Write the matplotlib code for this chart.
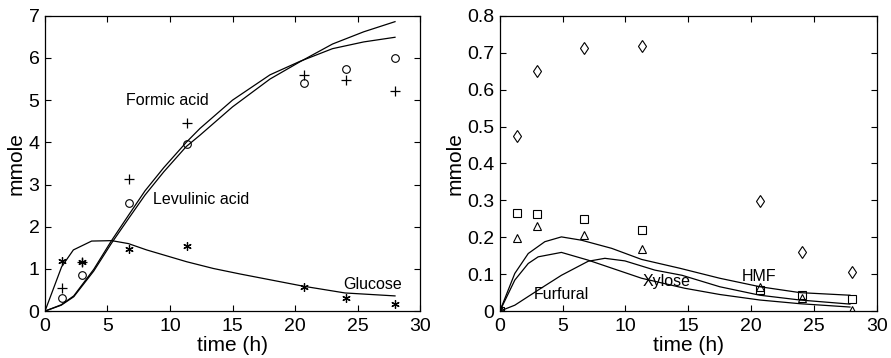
import numpy as np
import matplotlib
matplotlib.use("Agg")
import matplotlib.pyplot as plt

plt.rcParams["font.family"] = ["Liberation Sans", "DejaVu Sans"]

# ---- left panel: measured points ----
t_meas = [1.35, 2.95, 6.7, 11.35, 20.7, 24.05, 28.0]
formic = [0.55, 1.16, 3.12, 4.45, 5.59, 5.47, 5.21]
levulinic = [0.32, 0.85, 2.57, 3.95, 5.41, 5.73, 6.00]
glucose = [1.18, 1.16, 1.48, 1.55, 0.58, 0.30, 0.17]

# ---- left panel: model curves ----
t_acid = [0, 1.3, 2.3, 3.9, 5.3, 6.7, 8.0, 9.5, 11.3, 12.4, 15.0, 18.0, 20.4, 23.0, 25.5, 28.0]
formic_fit = [0, 0.14, 0.34, 0.95, 1.60, 2.20, 2.75, 3.30, 3.90, 4.17, 4.84, 5.50, 5.91, 6.33, 6.62, 6.86]
levulinic_fit = [0, 0.15, 0.36, 0.99, 1.66, 2.28, 2.85, 3.40, 4.00, 4.33, 5.00, 5.60, 5.92, 6.22, 6.38, 6.49]
t_glu = [0, 1.33, 2.27, 3.73, 5.33, 6.67, 8.13, 11.33, 13.47, 15.6, 20.67, 24.0, 28.0]
glucose_fit = [0, 1.05, 1.45, 1.66, 1.67, 1.60, 1.45, 1.17, 1.01, 0.88, 0.59, 0.43, 0.36]

# ---- right panel: measured points ----
t_meas2 = [0, 1.35, 2.95, 6.7, 11.35, 20.7, 24.05, 28.0]
diamonds = [0, 0.474, 0.651, 0.714, 0.719, 0.298, 0.160, 0.105]
squares = [0, 0.265, 0.263, 0.249, 0.219, 0.057, 0.044, 0.032]
triangles = [0, 0.198, 0.231, 0.207, 0.168, 0.064, 0.035, 0.003]

# ---- right panel: model curves ----
t_hmf = [0, 1.19, 2.26, 3.58, 4.9, 6.5, 8.9, 11.28, 14.33, 17.5, 20.7, 23.9, 27.87]
hmf_fit = [0, 0.102, 0.156, 0.188, 0.201, 0.192, 0.170, 0.140, 0.116, 0.089, 0.066, 0.050, 0.043]
t_fast = [0, 1.19, 2.26, 3.05, 4.9, 7.03, 11.28, 14.7, 17.5, 20.7, 23.9, 27.87]
fast_fit = [0, 0.084, 0.129, 0.147, 0.159, 0.138, 0.089, 0.062, 0.045, 0.030, 0.020, 0.011]
t_slow = [0, 1.19, 3.05, 4.9, 7.03, 8.36, 9.95, 12.34, 14.5, 17.5, 20.7, 23.9, 27.87]
slow_fit = [0, 0.016, 0.057, 0.097, 0.135, 0.143, 0.136, 0.111, 0.097, 0.066, 0.043, 0.030, 0.019]

asterisk = (6, 2, 0)
lw = 0.9
ms = 5.5

fig = plt.figure(figsize=(8.91, 3.58), dpi=100)
ax1 = fig.add_axes([0.0505, 0.131, 0.4209, 0.825])
ax2 = fig.add_axes([0.561, 0.131, 0.423, 0.825])

ax1.plot(t_acid, formic_fit, color="black", lw=lw)
ax1.plot(t_acid, levulinic_fit, color="black", lw=lw)
ax1.plot(t_glu, glucose_fit, color="black", lw=lw)
ax1.plot(t_meas, formic, ls="none", marker="+", ms=7, mec="black", mew=0.9)
ax1.plot(t_meas, levulinic, ls="none", marker="o", ms=ms, mfc="none", mec="black", mew=0.8)
ax1.plot(t_meas, glucose, ls="none", marker=asterisk, ms=6, mec="black", mew=0.9)
ax1.text(9.8, 5.0, "Formic acid", fontsize=11.5, ha="center", va="center")
ax1.text(12.5, 2.65, "Levulinic acid", fontsize=11.5, ha="center", va="center")
ax1.text(26.2, 0.62, "Glucose", fontsize=11.5, ha="center", va="center")
ax1.set_xlim(0, 30)
ax1.set_ylim(0, 7)
ax1.set_xticks(range(0, 31, 5))
ax1.set_yticks(range(0, 8))

ax2.plot(t_hmf, hmf_fit, color="black", lw=lw)
ax2.plot(t_fast, fast_fit, color="black", lw=lw)
ax2.plot(t_slow, slow_fit, color="black", lw=lw)
ax2.plot(t_meas2, diamonds, ls="none", marker="d", ms=6.5, mfc="none", mec="black", mew=0.8)
ax2.plot(t_meas2, squares, ls="none", marker="s", ms=5.3, mfc="none", mec="black", mew=0.8)
ax2.plot(t_meas2, triangles, ls="none", marker="^", ms=5.5, mfc="none", mec="black", mew=0.8)
ax2.text(20.65, 0.093, "HMF", fontsize=11.5, ha="center", va="center")
ax2.text(13.3, 0.081, "Xylose", fontsize=11.5, ha="center", va="center")
ax2.text(4.9, 0.045, "Furfural", fontsize=11.5, ha="center", va="center")
ax2.set_xlim(0, 30)
ax2.set_ylim(0, 0.8)
ax2.set_xticks(range(0, 31, 5))
ax2.set_yticks(np.round(np.arange(0, 0.81, 0.1), 1))
ax2.set_yticklabels(["0"] + [f"{v:.1f}" for v in np.arange(0.1, 0.81, 0.1)])

for ax in (ax1, ax2):
    ax.tick_params(direction="in", top=True, right=True, labelsize=14,
                   length=4, width=0.8)
    ax.tick_params(axis="x", pad=5)
    ax.tick_params(axis="y", pad=4)
    for s in ax.spines.values():
        s.set_linewidth(0.9)
    ax.set_xlabel("time (h)", fontsize=15)
    ax.xaxis.set_label_coords(0.5, -0.083)
    ax.set_ylabel("mmole", fontsize=15, labelpad=2)

fig.savefig("out.png", dpi=100)
